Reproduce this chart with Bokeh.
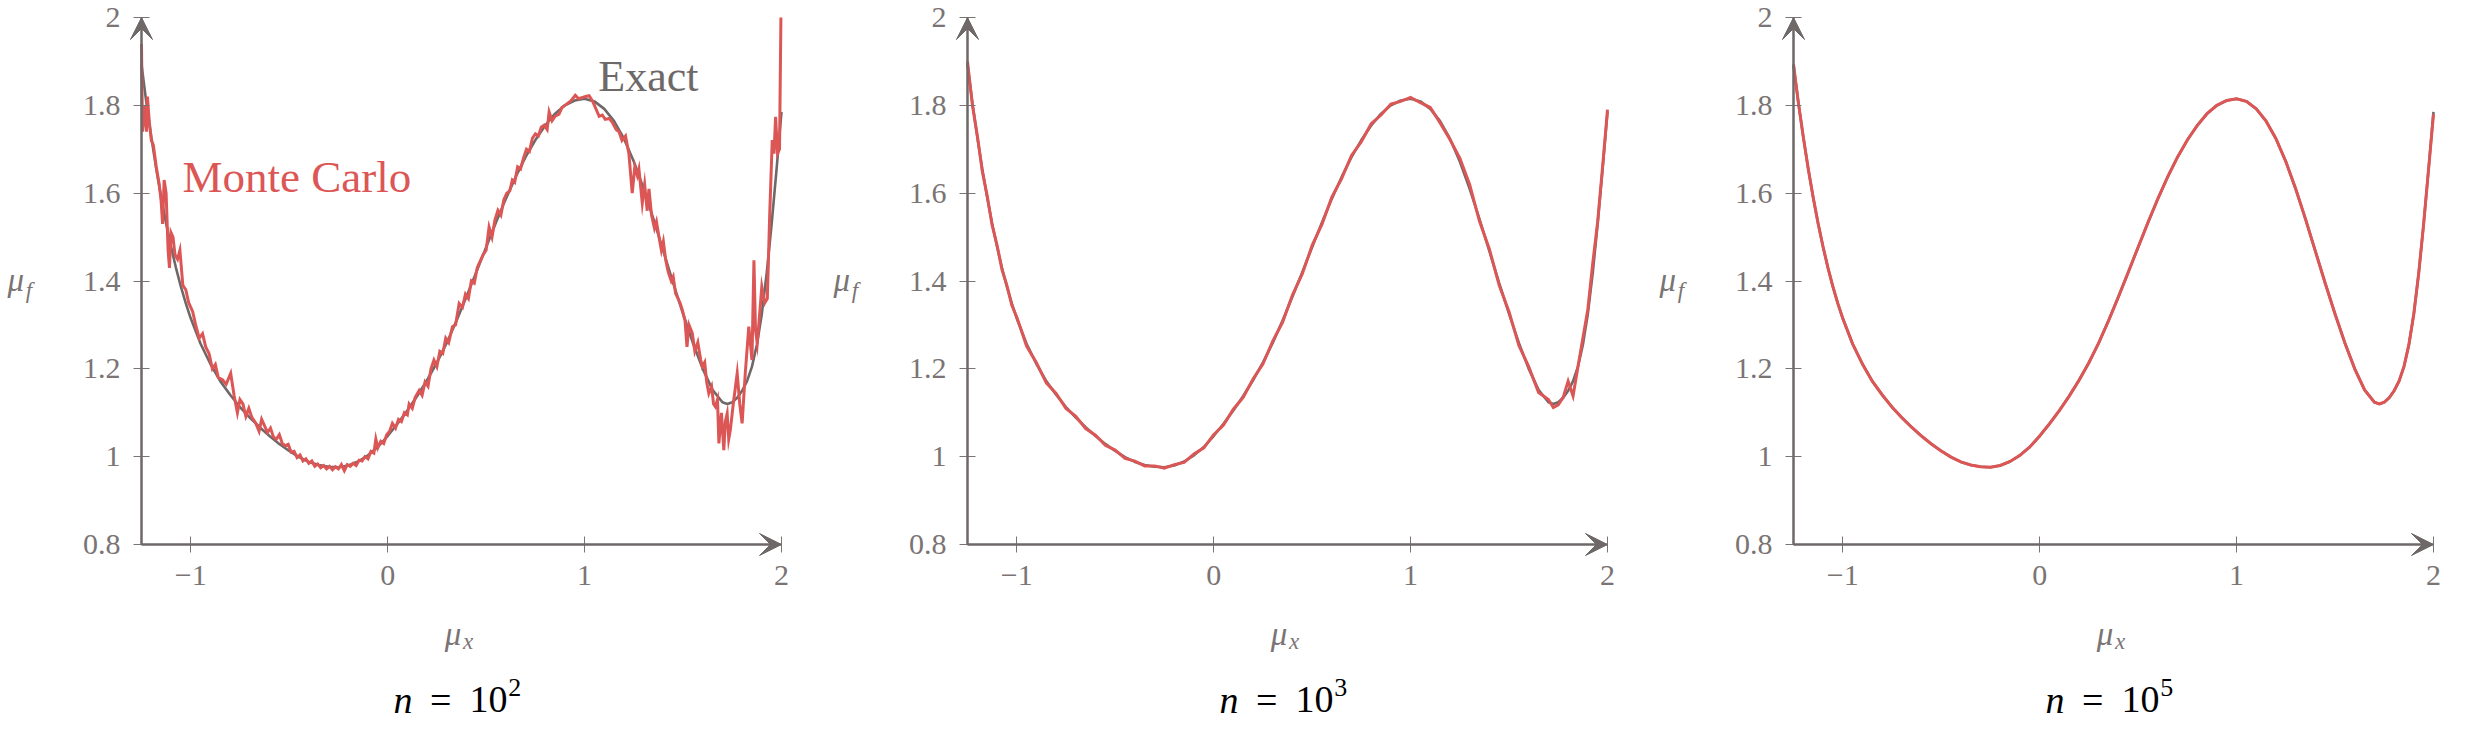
from bokeh.plotting import figure
from bokeh.layouts import row
from bokeh.models import Range1d, FixedTicker, Label, Arrow, VeeHead, CustomJSTickFormatter
from bokeh.embed import file_html
from bokeh.resources import INLINE

# ---------------- data ----------------
x_ticks = [-1, 0, 1, 2]
y_ticks = [0.8, 1.0, 1.2, 1.4, 1.6, 1.8, 2.0]

exact_x = [-1.25, -1.225, -1.2, -1.175, -1.15, -1.125, -1.1, -1.075, -1.05, -1.025, -1.0,
           -0.95, -0.9, -0.85, -0.8, -0.75, -0.7, -0.65, -0.6, -0.55, -0.5, -0.45, -0.4, -0.35,
           -0.3, -0.25, -0.2, -0.15, -0.1, -0.05, 0.0, 0.05, 0.1, 0.15, 0.2, 0.25, 0.3, 0.35, 0.4,
           0.45, 0.5, 0.55, 0.6, 0.65, 0.7, 0.75, 0.8, 0.85, 0.9, 0.95, 1.0, 1.05, 1.1, 1.15, 1.2,
           1.25, 1.3, 1.35, 1.4, 1.45, 1.5, 1.55, 1.6, 1.65, 1.7,
           1.725, 1.75, 1.775, 1.8, 1.825, 1.85, 1.875, 1.9, 1.925, 1.95, 1.975, 2.0]
exact_y = [1.893, 1.805, 1.727, 1.655, 1.590, 1.531, 1.478, 1.430, 1.387, 1.349, 1.315,
           1.257, 1.211, 1.172, 1.141, 1.113, 1.089, 1.067, 1.047, 1.029, 1.013, 0.999, 0.988, 0.981,
           0.977, 0.976, 0.980, 0.989, 1.003, 1.022, 1.047, 1.075, 1.105, 1.138, 1.174, 1.214, 1.259, 1.310, 1.364,
           1.420, 1.477, 1.533, 1.587, 1.637, 1.682, 1.721, 1.754, 1.781, 1.800, 1.811, 1.815, 1.809, 1.792, 1.764, 1.724,
           1.672, 1.610, 1.541, 1.468, 1.395, 1.325, 1.259, 1.200, 1.152, 1.124,
           1.120, 1.124, 1.134, 1.150, 1.172, 1.205, 1.255, 1.325, 1.418, 1.530, 1.655, 1.785]

# Monte Carlo, n = 10^2
mc2_x = [-1.25, -1.245, -1.235, -1.225, -1.22, -1.21, -1.2, -1.19, -1.175, -1.16, -1.15, -1.143,
         -1.135, -1.125, -1.115, -1.108, -1.1, -1.09, -1.08, -1.067, -1.055, -1.04, -1.025, -1.01,
         -0.99, -0.975, -0.957, -0.94, -0.924, -0.907, -0.89, -0.875, -0.86, -0.839, -0.82, -0.797,
         -0.78, -0.763, -0.75, -0.735, -0.72, -0.705, -0.69, -0.67, -0.653, -0.64, -0.625, -0.61,
         -0.595, -0.58, -0.565, -0.55, -0.535, -0.52, -0.505, -0.49, -0.475, -0.46, -0.445, -0.43,
         -0.415, -0.4, -0.385, -0.37, -0.355, -0.34, -0.325, -0.31, -0.295, -0.28, -0.265, -0.25,
         -0.235, -0.22, -0.205, -0.19, -0.175, -0.16, -0.145, -0.13, -0.115, -0.1, -0.085, -0.07,
         -0.06, -0.05, -0.035, -0.02, -0.005, 0.01, 0.024, 0.04, 0.055, 0.07, 0.085, 0.1, 0.109,
         0.125, 0.14, 0.16, 0.175, 0.19, 0.205, 0.22, 0.235, 0.25, 0.265, 0.28, 0.295, 0.31, 0.329,
         0.345, 0.363, 0.38, 0.395, 0.41, 0.425, 0.44, 0.455, 0.47, 0.485, 0.5, 0.515, 0.53, 0.545,
         0.56, 0.575, 0.59, 0.605, 0.62, 0.633, 0.645, 0.66, 0.675, 0.69, 0.705, 0.72, 0.735, 0.75,
         0.765, 0.78, 0.795, 0.81, 0.82, 0.835, 0.85, 0.87, 0.885, 0.9, 0.915, 0.93, 0.953, 0.97,
         0.99, 1.005, 1.023, 1.04, 1.055, 1.074, 1.09, 1.105, 1.125, 1.14, 1.16, 1.175, 1.19, 1.208,
         1.225, 1.242, 1.255, 1.268, 1.276, 1.293, 1.305, 1.318, 1.327, 1.34, 1.355, 1.365, 1.378,
         1.39, 1.4, 1.412, 1.425, 1.44, 1.45, 1.462, 1.475, 1.485, 1.496, 1.51, 1.52, 1.53, 1.547,
         1.56, 1.575, 1.59, 1.598, 1.61, 1.62, 1.631, 1.645, 1.655, 1.664, 1.675, 1.682, 1.695,
         1.707, 1.715, 1.724, 1.732, 1.74, 1.755, 1.775, 1.788, 1.8, 1.816, 1.834, 1.85, 1.86,
         1.868, 1.877, 1.89, 1.9, 1.915, 1.928, 1.94, 1.953, 1.962, 1.97, 1.98, 1.99, 1.997]
mc2_y = [1.94, 1.74, 1.80, 1.74, 1.82, 1.76, 1.72, 1.71, 1.66, 1.62, 1.58, 1.53,
         1.63, 1.60, 1.47, 1.43, 1.51, 1.50, 1.46, 1.45, 1.47, 1.39, 1.38, 1.35,
         1.33, 1.30, 1.27, 1.28, 1.25, 1.235, 1.20, 1.21, 1.18, 1.175, 1.165, 1.19,
         1.14, 1.10, 1.13, 1.12, 1.092, 1.11, 1.09, 1.076, 1.058, 1.085, 1.07, 1.055,
         1.065, 1.045, 1.04, 1.05, 1.03, 1.025, 1.028, 1.01, 1.012, 0.998, 1.004, 0.99,
         0.995, 0.985, 0.99, 0.978, 0.983, 0.975, 0.98, 0.972, 0.978, 0.97, 0.977, 0.972,
         0.982, 0.968, 0.982, 0.978, 0.985, 0.98, 0.992, 0.99, 1.00, 0.995, 1.012, 1.008,
         1.04, 1.02, 1.035, 1.03, 1.05, 1.058, 1.076, 1.065, 1.085, 1.08, 1.10, 1.095, 1.12,
         1.11, 1.135, 1.151, 1.14, 1.17, 1.16, 1.20, 1.22, 1.205, 1.24, 1.235, 1.27, 1.26, 1.296,
         1.30, 1.349, 1.34, 1.37, 1.36, 1.40, 1.395, 1.43, 1.445, 1.46, 1.47, 1.523, 1.50, 1.54,
         1.561, 1.55, 1.585, 1.60, 1.605, 1.63, 1.625, 1.66, 1.655, 1.68, 1.70, 1.695, 1.725, 1.735,
         1.73, 1.75, 1.755, 1.745, 1.785, 1.765, 1.775, 1.78, 1.795, 1.80, 1.805, 1.81, 1.823, 1.815,
         1.818, 1.82, 1.822, 1.81, 1.795, 1.775, 1.778, 1.768, 1.77, 1.762, 1.745, 1.74, 1.72, 1.73,
         1.69, 1.60, 1.66, 1.64, 1.655, 1.577, 1.62, 1.56, 1.61, 1.55, 1.52, 1.535, 1.50,
         1.47, 1.49, 1.448, 1.42, 1.40, 1.41, 1.372, 1.36, 1.35, 1.335, 1.31, 1.25, 1.30, 1.281,
         1.24, 1.26, 1.22, 1.205, 1.215, 1.17, 1.144, 1.16, 1.12, 1.114, 1.13, 1.03, 1.10,
         1.015, 1.08, 1.098, 1.04, 1.06, 1.12, 1.19, 1.12, 1.076, 1.19, 1.296, 1.22, 1.447,
         1.288, 1.258, 1.33, 1.387, 1.35, 1.36, 1.55, 1.721, 1.69, 1.774, 1.69, 1.70, 2.00]

# Monte Carlo, n = 10^3 (same abscissae as exact_x)
mc3_y = [1.900, 1.800, 1.731, 1.650, 1.594, 1.527, 1.482, 1.426, 1.390, 1.345, 1.318,
         1.252, 1.214, 1.168, 1.144, 1.110, 1.092, 1.064, 1.049, 1.026, 1.015, 0.996, 0.990, 0.979,
         0.979, 0.974, 0.982, 0.987, 1.006, 1.020, 1.050, 1.072, 1.108, 1.135, 1.177, 1.211, 1.263, 1.306, 1.368,
         1.416, 1.481, 1.529, 1.591, 1.633, 1.686, 1.717, 1.758, 1.778, 1.803, 1.809, 1.818, 1.806, 1.795, 1.760, 1.722,
         1.680, 1.620, 1.536, 1.473, 1.390, 1.330, 1.253, 1.205, 1.146, 1.130,
         1.112, 1.118, 1.135, 1.172, 1.138, 1.205, 1.270, 1.335, 1.440, 1.535, 1.660, 1.790]

# Monte Carlo, n = 10^5 (same abscissae as exact_x)
mc5_y = [1.893, 1.805, 1.727, 1.655, 1.590, 1.531, 1.478, 1.430, 1.387, 1.349, 1.315,
         1.257, 1.211, 1.172, 1.141, 1.113, 1.089, 1.067, 1.047, 1.029, 1.013, 0.999, 0.988, 0.981,
         0.977, 0.976, 0.980, 0.989, 1.003, 1.022, 1.047, 1.075, 1.105, 1.138, 1.174, 1.214, 1.259, 1.310, 1.364,
         1.420, 1.477, 1.533, 1.587, 1.637, 1.682, 1.721, 1.754, 1.781, 1.800, 1.811, 1.815, 1.809, 1.792, 1.764, 1.724,
         1.672, 1.610, 1.541, 1.468, 1.395, 1.325, 1.259, 1.200, 1.152, 1.124,
         1.120, 1.124, 1.134, 1.150, 1.172, 1.205, 1.255, 1.325, 1.418, 1.530, 1.655, 1.780]

exponents = ["2", "3", "5"]

# ---------------- style / layout ----------------
RED = "#dc5656"
GRAY = "#6e6868"
TICK = "#7a7474"
FONT = "Liberation Serif"

X0, X1, Y0, Y1 = -1.25, 2.0, 0.8, 2.0
H = 725
LEFT = 141       # px from figure's left edge to x = X0
TOP = 17         # px from figure's top edge to y = Y1
DW, DH = 640, 527  # pixel size of the data box
SX = DW / (X1 - X0)
SY = DH / (Y1 - Y0)


def txt(x, y, text, size, color, style="normal"):
    return Label(x=x, y=y, text=text, text_font=FONT, text_font_style=style,
                 text_font_size=size, text_color=color, text_baseline="middle",
                 text_align="left")


def make_panel(mcx, mcy, exp, width, annotate):
    xr = Range1d(X0 - LEFT / SX, X1 + (width - LEFT - DW) / SX)
    yr = Range1d(Y0 - (H - TOP - DH) / SY, Y1 + TOP / SY)
    p = figure(width=width, height=H, x_range=xr, y_range=yr,
               output_backend="svg", toolbar_location=None,
               min_border_left=0, min_border_right=0, min_border_top=0, min_border_bottom=0)
    p.outline_line_color = None
    p.grid.visible = False
    p.background_fill_color = "white"
    p.border_fill_color = "white"

    p.xaxis.fixed_location = Y0
    p.yaxis.fixed_location = X0
    p.xaxis.bounds = (X0, X1)
    p.yaxis.bounds = (Y0, Y1)
    for ax in (p.xaxis[0], p.yaxis[0]):
        ax.axis_line_color = GRAY
        ax.axis_line_width = 2
        ax.major_tick_line_color = TICK
        ax.major_tick_line_width = 1
        ax.major_tick_in = 8
        ax.major_tick_out = 8
        ax.minor_tick_line_color = None
        ax.major_label_text_font = FONT
        ax.major_label_text_font_size = "30px"
        ax.major_label_text_color = TICK
        ax.major_label_standoff = 13
    p.xaxis.ticker = FixedTicker(ticks=x_ticks)
    p.yaxis.ticker = FixedTicker(ticks=y_ticks)
    p.xaxis.formatter = CustomJSTickFormatter(
        code="return tick < 0 ? '\u2212' + Math.abs(tick) : String(tick);")
    p.yaxis.formatter = CustomJSTickFormatter(
        code="return String(Math.round(tick * 10) / 10);")

    # arrow heads on the axes
    p.add_layout(Arrow(end=VeeHead(size=22, fill_color=GRAY, line_color=GRAY, line_width=1),
                       x_start=X0, y_start=Y0, x_end=X0, y_end=Y1,
                       line_color=GRAY, line_width=2))
    p.add_layout(Arrow(end=VeeHead(size=22, fill_color=GRAY, line_color=GRAY, line_width=1),
                       x_start=X0, y_start=Y0, x_end=X1, y_end=Y0,
                       line_color=GRAY, line_width=2))

    p.line(exact_x, exact_y, line_color=GRAY, line_width=2.6)
    p.line(mcx, mcy, line_color=RED, line_width=3, line_join="miter")

    # axis labels  mu_f , mu_x
    p.add_layout(txt(-1.93, 1.403, "\u03bc", "33px", TICK, "italic"))
    p.add_layout(txt(-1.838, 1.378, "f", "23px", TICK, "italic"))
    p.add_layout(txt(0.29, 0.597, "\u03bc", "33px", TICK, "italic"))
    p.add_layout(txt(0.383, 0.578, "x", "23px", TICK, "italic"))

    # caption  n = 10^k
    p.add_layout(txt(0.03, 0.447, "n", "38px", "black", "italic"))
    p.add_layout(txt(0.215, 0.447, "=", "38px", "black"))
    p.add_layout(txt(0.415, 0.447, "10", "38px", "black"))
    p.add_layout(txt(0.612, 0.474, exp, "26px", "black"))

    if annotate:
        p.add_layout(txt(-1.042, 1.636, "Monte Carlo", "45px", RED))
        p.add_layout(txt(1.07, 1.866, "Exact", "44px", GRAY))
    return p


p1 = make_panel(mc2_x, mc2_y, exponents[0], 826, True)
p2 = make_panel(exact_x, mc3_y, exponents[1], 826, False)
p3 = make_panel(exact_x, mc5_y, exponents[2], 797, False)

layout = row(p1, p2, p3)
open("out.html", "w").write(file_html(layout, INLINE))
